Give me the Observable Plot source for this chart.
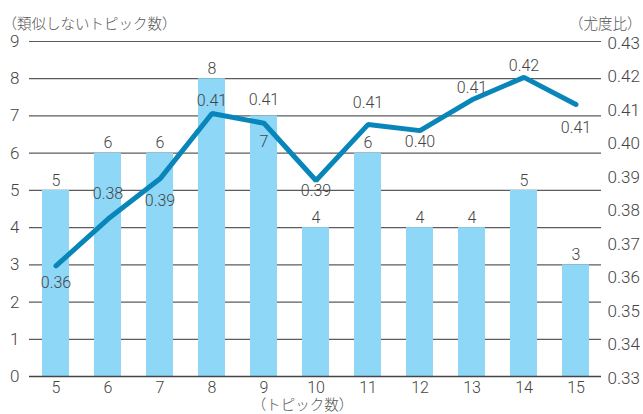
<!DOCTYPE html>
<html>
<head>
<meta charset="utf-8">
<script src="https://cdn.jsdelivr.net/npm/d3@7"></script>
<script src="https://cdn.jsdelivr.net/npm/@observablehq/plot@0.6"></script>
<style>
  html, body { margin: 0; padding: 0; background: #fff; }
</style>
</head>
<body>
<div id="chart"></div>
<script>
// ---- data ----
const categories = [5, 6, 7, 8, 9, 10, 11, 12, 13, 14, 15];
const dissimilarTopics = [5, 6, 6, 8, 7, 4, 6, 4, 4, 5, 3];
const likelihoodRatios = [0.363, 0.377, 0.389, 0.4085, 0.4056, 0.3885, 0.4052, 0.4034, 0.4126, 0.4193, 0.4112];
const leftTicks = [0, 1, 2, 3, 4, 5, 6, 7, 8, 9];
const rightTicks = [0.33, 0.34, 0.35, 0.36, 0.37, 0.38, 0.39, 0.40, 0.41, 0.42, 0.43];
const leftTitle = "（類似しないトピック数）";
const rightTitle = "（尤度比）";
const xTitle = "（トピック数）";

// ---- layout (label offsets in px) ----
const lineLabelDy = [17, -25, 22, -13, -23, 10, -22, 11, -12, -11, 23];
const barLabelDy = [-10, -10, -10, -10, 26, -10, -10, -10, -10, -10, -10];

// right axis (0.33–0.43) mapped onto left axis (0–9)
const toLeft = v => (v - 0.33) / 0.1 * 9;

const rows = categories.map((c, i) => ({c, bar: dissimilarTopics[i], ratio: likelihoodRatios[i], i}));
const fmt2 = d3.format(".2f");
const textColor = "#444";

const chart = Plot.plot({
  width: 643,
  height: 414,
  marginTop: 41,
  marginBottom: 38,
  marginLeft: 29,
  marginRight: 42,
  style: {fontFamily: 'Roboto, "Noto Sans CJK JP", sans-serif', fontWeight: 300, fontSize: "15px", color: textColor, background: "#fff", overflow: "visible"},
  x: {type: "band", domain: categories, paddingInner: 0.49, paddingOuter: 0.245, axis: null},
  y: {domain: [0, 9], axis: null},
  marks: [
    Plot.ruleY(leftTicks, {stroke: "#5c5c5c", strokeWidth: 1.2}),
    Plot.barY(rows, {x: "c", y: "bar", fill: "#8ed7f6"}),
    Plot.ruleY([0], {stroke: "#444", strokeWidth: 1.4}),
    Plot.line(rows, {x: "c", y: d => toLeft(d.ratio), stroke: "#0886b9", strokeWidth: 5, strokeLinecap: "round", strokeLinejoin: "miter"}),
    ...rows.map(r => Plot.text([r], {x: "c", y: "bar", text: d => String(d.bar), dy: barLabelDy[r.i], fill: textColor, fontSize: 16})),
    ...rows.map(r => Plot.text([r], {x: "c", y: d => toLeft(d.ratio), text: d => fmt2(d.ratio), dy: lineLabelDy[r.i], fill: textColor, fontSize: 16})),
    // left axis labels
    Plot.text(leftTicks, {y: d => d, text: d => String(d), frameAnchor: "left", textAnchor: "end", dx: -10, fill: textColor, fontSize: 17}),
    // right axis labels
    Plot.text(rightTicks, {y: d => toLeft(d), text: d => fmt2(d), frameAnchor: "right", textAnchor: "start", dx: 6, dy: 2, fill: textColor, fontSize: 17}),
    // x axis labels
    Plot.text(categories, {x: d => d, text: d => String(d), frameAnchor: "bottom", dy: 16, fill: textColor, fontSize: 16}),
    // titles
    Plot.text([leftTitle], {frameAnchor: "top-left", textAnchor: "start", dx: -27, dy: -23, fill: "#555", fontSize: 14.5}),
    Plot.text([rightTitle], {frameAnchor: "top-right", textAnchor: "end", dx: 40, dy: -23, fill: "#555", fontSize: 14.5}),
    Plot.text([xTitle], {frameAnchor: "bottom", dx: -13, dy: 33, fill: "#555", fontSize: 14.5})
  ]
});
document.getElementById("chart").appendChild(chart);
</script>
</body>
</html>
